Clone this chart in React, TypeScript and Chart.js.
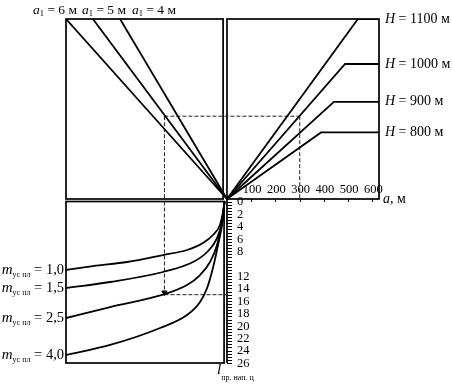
import { useEffect, useRef } from "react";
import { Chart, registerables } from "chart.js";

Chart.register(...registerables);

// ---------- data ----------
const A_TICKS = [100, 200, 300, 400, 500, 600];
const L_LABELS = [0, 2, 4, 6, 8, 12, 14, 16, 18, 20, 22, 24, 26];

const H_LEVELS = [1100, 1000, 900, 800];
const H_PLATEAU = [100, 75, 54, 37];
const H_BREAK_A = [540, 487, 441, 388];

const A1_VALUES = [6, 5, 4];
const A1_TOP_X = [-664, -553, -441];

const M_VALUES = ["1,0", "1,5", "2,5", "4,0"];
const M_CURVE_X = [
  [-664, -553, -412, -264, -165, -99, -58, -29, -16, -10],
  [-664, -482, -264, -140, -82, -41, -21, -10],
  [-664, -482, -264, -165, -111, -70, -41, -21, -10],
  [-664, -482, -276, -165, -111, -82, -58, -37, -16, -10],
];
const M_CURVE_L = [
  [11.03, 10.39, 9.74, 8.62, 7.81, 6.68, 5.39, 3.78, 1.69, 0],
  [13.93, 12.96, 11.35, 9.74, 8.13, 5.88, 3.3, 0],
  [18.76, 16.99, 15.0, 13.45, 11.84, 9.74, 7.0, 3.3, 0],
  [24.72, 23.1, 20.37, 18.28, 16.18, 13.93, 10.71, 7.0, 2.66, 0],
];

const GUIDE_A = 300;
const GUIDE_Y = 46;
const GUIDE_LEFT_X = -258;
const GUIDE_L = 15;

// axis limits
const X_MIN = -664;
const X_MAX = 627;
const Y_TOP_MAX = 100;
const L_MAX = 26;
const LEFT_PANEL_RIGHT = -16;
const LOW_PANEL_RIGHT = -12;

// ---------- layout ----------
const W = 452;
const H = 384;
const AREA_LEFT = 66;
const AREA_RIGHT = 379;
const AREA_TOP = 19;
const AREA_BOTTOM = 363;
const ORIGIN_Y = 199;
const LOW_ZERO_Y = 201.5;

const topPx = (ORIGIN_Y - AREA_TOP) / Y_TOP_MAX;
const Y_TOP_MIN = -(AREA_BOTTOM - ORIGIN_Y) / topPx;
const lowPx = (AREA_BOTTOM - LOW_ZERO_Y) / L_MAX;
const L_MIN = -(LOW_ZERO_Y - AREA_TOP) / lowPx;

const SERIF = '"Liberation Serif", "DejaVu Serif", serif';
const INK = "#000";

type Part = { t: string; f: string; dy?: number };

function drawParts(ctx: CanvasRenderingContext2D, parts: Part[], x: number, y: number, align: "left" | "right") {
  ctx.textAlign = "left";
  let total = 0;
  for (const p of parts) {
    ctx.font = p.f;
    total += ctx.measureText(p.t).width;
  }
  let cx = align === "left" ? x : x - total;
  for (const p of parts) {
    ctx.font = p.f;
    ctx.fillText(p.t, cx, y + (p.dy || 0));
    cx += ctx.measureText(p.t).width;
  }
}

const nomoPlugin = {
  id: "nomo",
  beforeDatasetsDraw(chart: any) {
    const ctx: CanvasRenderingContext2D = chart.ctx;
    const { x, yTop, yLow } = chart.scales;
    const X = (v: number) => x.getPixelForValue(v);
    const YT = (v: number) => yTop.getPixelForValue(v);
    const YL = (v: number) => yLow.getPixelForValue(v);
    ctx.save();
    ctx.strokeStyle = INK;
    ctx.lineWidth = 1.7;
    // top-left panel
    ctx.strokeRect(X(X_MIN), YT(Y_TOP_MAX), X(LEFT_PANEL_RIGHT) - X(X_MIN), YT(0) - YT(Y_TOP_MAX));
    // top-right panel
    ctx.strokeRect(X(0), YT(Y_TOP_MAX), X(X_MAX) - X(0), YT(0) - YT(Y_TOP_MAX));
    // lower panel
    ctx.strokeRect(X(X_MIN), YL(0), X(LOW_PANEL_RIGHT) - X(X_MIN), YL(L_MAX) - YL(0));
    // scale line
    ctx.beginPath();
    ctx.moveTo(X(0), YT(0));
    ctx.lineTo(X(0), YL(L_MAX));
    ctx.stroke();

    // scale ticks
    ctx.lineWidth = 1;
    ctx.beginPath();
    for (let i = 0; i <= L_MAX * 2; i++) {
      const py = Math.round(YL(i / 2)) + 0.5;
      ctx.moveTo(X(0), py);
      ctx.lineTo(X(0) + 5, py);
    }
    ctx.stroke();
    // a ticks
    ctx.beginPath();
    for (const a of A_TICKS) {
      const px = Math.round(X(a)) + 0.5;
      ctx.moveTo(px, YT(0));
      ctx.lineTo(px, YT(0) + 3);
    }
    ctx.stroke();

    ctx.fillStyle = INK;
    // a tick labels
    ctx.font = `12.5px ${SERIF}`;
    ctx.textAlign = "center";
    ctx.textBaseline = "alphabetic";
    for (const a of A_TICKS) ctx.fillText(String(a), X(a) + 1, YT(0) - 6);
    drawParts(ctx, [{ t: "a", f: `italic 14px ${SERIF}` }, { t: ", м", f: `14px ${SERIF}` }], AREA_RIGHT + 4, YT(0) + 4, "left");

    // l labels
    ctx.font = `12.5px ${SERIF}`;
    ctx.textAlign = "left";
    ctx.textBaseline = "middle";
    for (const l of L_LABELS) ctx.fillText(String(l), X(0) + 10, YL(l) + 0.5);

    ctx.textBaseline = "middle";
    // H labels
    H_LEVELS.forEach((h, i) => {
      drawParts(
        ctx,
        [
          { t: "H", f: `italic 14px ${SERIF}` },
          { t: ` = ${h} м`, f: `14px ${SERIF}` },
        ],
        AREA_RIGHT + 6,
        YT(H_PLATEAU[i]),
        "left"
      );
    });
    // m labels
    M_VALUES.forEach((m, i) => {
      drawParts(
        ctx,
        [
          { t: "m", f: `italic 15px ${SERIF}` },
          { t: "ус пл", f: `8px ${SERIF}`, dy: 5 },
          { t: ` = ${m}`, f: `14.5px ${SERIF}` },
        ],
        AREA_LEFT - 2,
        YL(M_CURVE_L[i][0]),
        "right"
      );
    });
    // a1 labels
    const a1Starts = [33, 82, 132];
    A1_VALUES.forEach((v, i) => {
      drawParts(
        ctx,
        [
          { t: "a", f: `italic 13.5px ${SERIF}` },
          { t: "1", f: `8.5px ${SERIF}`, dy: 4 },
          { t: ` = ${v} м`, f: `13.5px ${SERIF}` },
        ],
        a1Starts[i],
        AREA_TOP - 9,
        "left"
      );
    });
    // l label
    ctx.textBaseline = "alphabetic";
    drawParts(
      ctx,
      [
        { t: "l", f: `italic 15px ${SERIF}` },
        { t: "пр. нап. ц", f: `8px ${SERIF}`, dy: 6 },
      ],
      X(0) - 10,
      AREA_BOTTOM + 11,
      "left"
    );
    ctx.restore();
  },
};

const solid = { borderColor: INK, borderWidth: 1.8, pointRadius: 0, showLine: true, fill: false };
const dashed = { borderColor: "#222", borderWidth: 1, borderDash: [4, 2], pointRadius: 0, showLine: true, fill: false };

export default function App() {
  const ref = useRef<HTMLCanvasElement>(null);
  useEffect(() => {
    const datasets: any[] = [];
    H_LEVELS.forEach((_, i) => {
      datasets.push({
        ...solid,
        yAxisID: "yTop",
        data: [
          { x: 0, y: 0 },
          { x: H_BREAK_A[i], y: H_PLATEAU[i] },
          { x: X_MAX, y: H_PLATEAU[i] },
        ],
      });
    });
    A1_VALUES.forEach((_, i) => {
      datasets.push({
        ...solid,
        yAxisID: "yTop",
        data: [
          { x: 0, y: 0 },
          { x: A1_TOP_X[i], y: Y_TOP_MAX },
        ],
      });
    });
    M_VALUES.forEach((_, i) => {
      datasets.push({
        ...solid,
        yAxisID: "yLow",
        cubicInterpolationMode: "monotone",
        data: M_CURVE_X[i].map((xv, j) => ({ x: xv, y: M_CURVE_L[i][j] })),
      });
    });
    // guide lines
    datasets.push({ ...dashed, yAxisID: "yTop", data: [{ x: GUIDE_LEFT_X, y: GUIDE_Y }, { x: GUIDE_A, y: GUIDE_Y }] });
    datasets.push({ ...dashed, yAxisID: "yTop", data: [{ x: GUIDE_A, y: GUIDE_Y }, { x: GUIDE_A, y: 0 }] });
    datasets.push({ ...dashed, yAxisID: "yTop", data: [{ x: GUIDE_LEFT_X, y: GUIDE_Y }, { x: GUIDE_LEFT_X, y: 0 }] });
    datasets.push({ ...dashed, yAxisID: "yLow", data: [{ x: GUIDE_LEFT_X, y: 0 }, { x: GUIDE_LEFT_X, y: GUIDE_L }] });
    datasets.push({ ...dashed, yAxisID: "yLow", data: [{ x: GUIDE_LEFT_X, y: GUIDE_L }, { x: 0, y: GUIDE_L }] });
    datasets.push({
      yAxisID: "yLow",
      showLine: false,
      data: [{ x: GUIDE_LEFT_X, y: GUIDE_L - 0.35 }],
      pointStyle: "triangle",
      rotation: 180,
      pointRadius: 3,
      backgroundColor: INK,
      borderColor: INK,
      borderWidth: 1,
    });

    const chart = new Chart(ref.current!, {
      type: "scatter",
      data: { datasets },
      options: {
        responsive: false,
        animation: false,
        events: [],
        layout: {
          padding: { left: AREA_LEFT, right: W - AREA_RIGHT, top: AREA_TOP, bottom: H - AREA_BOTTOM },
        },
        plugins: { legend: { display: false }, tooltip: { enabled: false } },
        scales: {
          x: { type: "linear", min: X_MIN, max: X_MAX, display: false, bounds: "data" },
          yTop: { type: "linear", position: "left", min: Y_TOP_MIN, max: Y_TOP_MAX, display: false, bounds: "data" },
          yLow: { type: "linear", position: "left", min: L_MIN, max: L_MAX, reverse: true, display: false, bounds: "data" },
        },
      } as any,
      plugins: [nomoPlugin],
    });
    return () => chart.destroy();
  }, []);
  return (
    <div style={{ position: "absolute", left: 0, top: 0, width: W, height: H, background: "#fff" }}>
      <canvas ref={ref} width={W} height={H} style={{ display: "block", width: W, height: H }} />
    </div>
  );
}
